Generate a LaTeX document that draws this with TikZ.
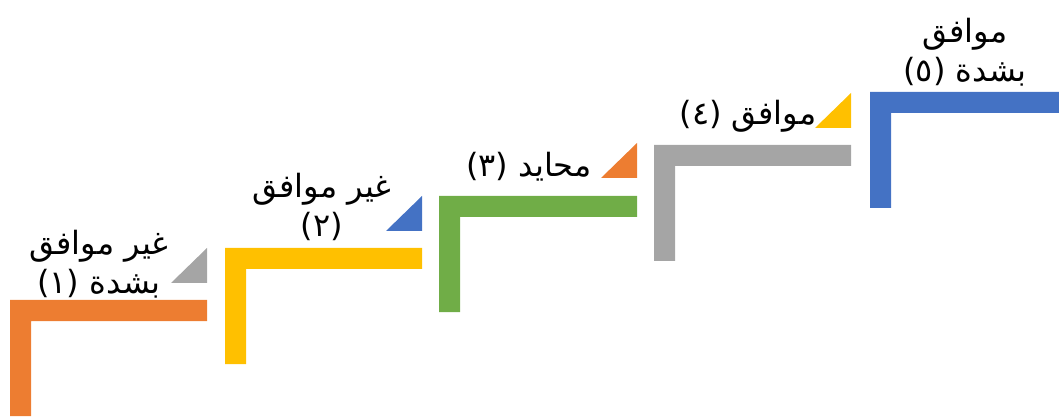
\documentclass[tikz,border=0pt]{standalone}
\usepackage{fontspec}
\newfontfamily\arabicfont[Script=Arabic]{DejaVu Sans}
\TeXXeTstate=1
\definecolor{corange}{HTML}{ED7D31}
\definecolor{cyellow}{HTML}{FFC000}
\definecolor{cgreen}{HTML}{70AD47}
\definecolor{cgray}{HTML}{A5A5A5}
\definecolor{cblue}{HTML}{4472C4}
\tikzset{
  lbl/.style={inner sep=0pt, align=center, font=\arabicfont\fontsize{32}{39}\selectfont},
}
\newcommand{\stepbar}[4]{% x, y, color, length
  \fill[#3] (#1,#2) -- ++(#4,0) -- ++(0,21) -- ++(-#4+21,0) -- ++(0,95) -- ++(-21,0) -- cycle;
}
\newcommand{\cornertri}[3]{% right x, bottom y, color
  \fill[#3] (#1,#2) -- ++(-36,0) -- ++(36,-35) -- cycle;
}
\begin{document}
\begin{tikzpicture}[x=1pt,y=-1pt]
\useasboundingbox (0,0) rectangle (1059,419);
\stepbar{10}{300}{corange}{197}
\stepbar{225}{248}{cyellow}{197}
\stepbar{439}{196}{cgreen}{198}
\stepbar{654}{145}{cgray}{197}
\stepbar{870}{92}{cblue}{189}
\cornertri{207}{283}{cgray}
\cornertri{422}{231}{cblue}
\cornertri{637}{178}{corange}
\cornertri{851}{128}{cyellow}
\node[lbl] (l1) at (99,264) {\beginR غير موافق\endR\\\beginR بشدة (١)\endR};
\node[lbl] (l2) at (322,207) {\beginR غير موافق\endR\\\beginR (٢)\endR};
\node[lbl] (l3) at (529,167) {\beginR محايد (٣)\endR};
\node[lbl] (l4) at (748,116) {\beginR موافق (٤)\endR};
\node[lbl] (l5) at (965,52) {\beginR موافق\endR\\\beginR بشدة (٥)\endR};
\end{tikzpicture}
\end{document}
